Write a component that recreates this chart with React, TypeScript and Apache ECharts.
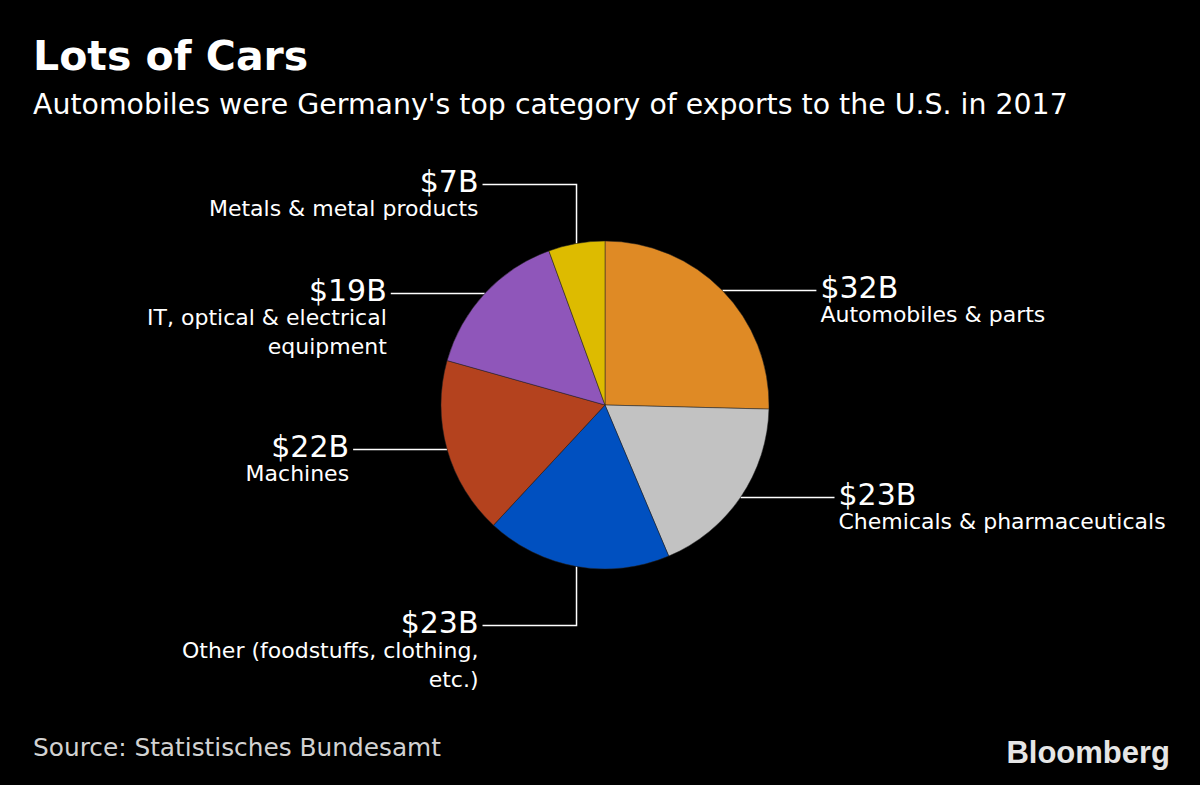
import React, { useEffect, useRef } from "react";
import * as echarts from "echarts";

const categories = [
  "Automobiles & parts",
  "Chemicals & pharmaceuticals",
  "Other (foodstuffs, clothing,\netc.)",
  "Machines",
  "IT, optical & electrical\nequipment",
  "Metals & metal products",
];
const values = [32, 23, 23, 22, 19, 7];
const colors = ["#DF8A25", "#C2C2C2", "#0050C0", "#B4421E", "#8F56BA", "#DDBB00"];
// leader direction: horizontal side and vertical leg (px)
const sides = ["right", "right", "left", "left", "left", "left"];
const verticalLegs = [0, 0, 59, 0, 0, -59];

const FONT = '"DejaVu Sans", "Liberation Sans", sans-serif';

function makeRich(align: string) {
  return {
    v: { fontSize: 30, lineHeight: 26, color: "#ffffff", fontFamily: FONT, align },
    n: { fontSize: 22, lineHeight: 29, color: "#ffffff", fontFamily: FONT, align },
  };
}

export default function App() {
  const ref = useRef<HTMLDivElement>(null);
  useEffect(() => {
    document.body.style.margin = "0";
    const chart = echarts.init(ref.current!, null, { renderer: "svg" });
    const H_LEG = 94;
    chart.setOption({
      animation: false,
      backgroundColor: "#000000",
      graphic: [
        {
          type: "text",
          left: 33,
          top: 35,
          style: { text: "Lots of Cars", font: `bold 41px ${FONT}`, fill: "#ffffff" },
        },
        {
          type: "text",
          left: 33,
          top: 90,
          style: {
            text: "Automobiles were Germany's top category of exports to the U.S. in 2017",
            font: `28.4px ${FONT}`,
            fill: "#ffffff",
          },
        },
        {
          type: "text",
          left: 33,
          top: 735,
          style: { text: "Source: Statistisches Bundesamt", font: `24.8px ${FONT}`, fill: "#d2d2d2" },
        },
        {
          type: "text",
          right: 30,
          top: 737,
          style: {
            text: "Bloomberg",
            font: 'bold 31px "Liberation Sans", Arial, sans-serif',
            fill: "#e6e6e6",
          },
        },
      ],
      series: [
        {
          type: "pie",
          center: [605, 405],
          radius: 164,
          startAngle: 90,
          clockwise: true,
          data: categories.map((name, i) => ({
            name,
            value: values[i],
            itemStyle: { color: colors[i] },
            label: { rich: makeRich(sides[i] === "right" ? "left" : "right") },
          })),
          itemStyle: { borderColor: "#222222", borderWidth: 0.5 },
          label: {
            show: true,
            position: "outside",
            formatter: (p: any) =>
              `{v|$${p.value}B}\n` +
              String(p.name)
                .split("\n")
                .map((s: string) => `{n|${s}}`)
                .join("\n"),
          },
          labelLine: { show: true, length: 20, length2: 20, lineStyle: { color: "#ffffff", width: 1.5 } },
          labelLayout: (params: any) => {
            const i = params.dataIndex;
            const p0 = params.labelLinePoints[0];
            const p1 = [p0[0], p0[1] + verticalLegs[i]];
            const dir = sides[i] === "right" ? 1 : -1;
            const p2 = [p1[0] + dir * H_LEG, p1[1]];
            return {
              x: p2[0] + dir * 4,
              y: p2[1] - 16,
              align: sides[i] === "right" ? "left" : "right",
              verticalAlign: "top",
              labelLinePoints: [p0, p1, p2],
            };
          },
          emphasis: { disabled: true },
        },
      ],
    });
    return () => chart.dispose();
  }, []);
  return <div ref={ref} style={{ width: 1200, height: 785 }} />;
}
